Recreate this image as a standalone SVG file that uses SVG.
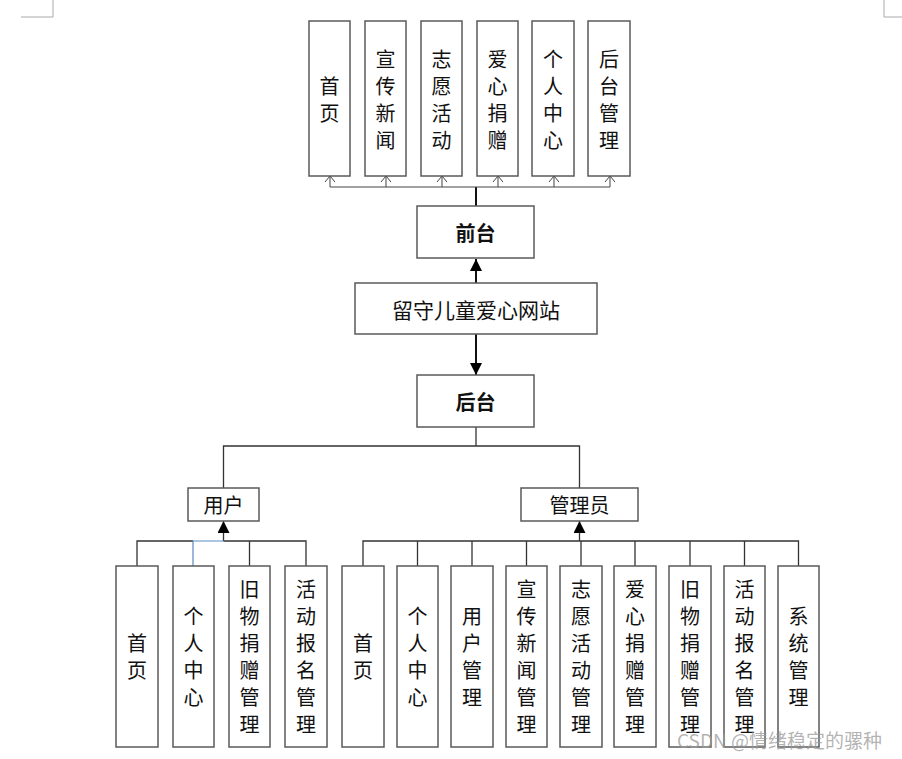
<svg xmlns="http://www.w3.org/2000/svg" width="902" height="759" viewBox="0 0 902 759">
<defs>
<style>
.box{fill:#fff;stroke:#5a5a5a;stroke-width:1.5}
.t{font-family:"Noto Sans CJK SC","Noto Sans",sans-serif;font-size:20px;fill:#111;text-anchor:middle;dominant-baseline:central}
.b{font-weight:bold}
.ln{fill:none;stroke:#333;stroke-width:1.3}
.thin{fill:none;stroke:#444;stroke-width:1}
.thick{fill:none;stroke:#111;stroke-width:2}
.mark{fill:none;stroke:#aaa;stroke-width:1}
.wm{font-family:"Noto Sans CJK SC","Noto Sans",sans-serif;font-size:19px;fill:#9a9a9a;fill-opacity:0.75}
</style>
<marker id="fill" viewBox="0 0 12 12" refX="12" refY="6" markerWidth="12" markerHeight="12" markerUnits="userSpaceOnUse" orient="auto">
<path d="M0,0 L12,6 L0,12 Z" fill="#000"/>
</marker>
<marker id="open" viewBox="0 0 8 12" refX="6" refY="6" markerWidth="8" markerHeight="12" markerUnits="userSpaceOnUse" orient="auto">
<path d="M0,1 L6,6 L0,11" fill="none" stroke="#444" stroke-width="1"/>
</marker>
</defs>
<rect x="0" y="0" width="902" height="759" fill="#fff"/>
<g id="page-marks">
<path class="mark" d="M53,0 V17 H21"/>
<path class="mark" d="M884,0 V17 H902"/>
</g>
<g id="connectors">
<path class="thick" d="M476,206 V187"/>
<path class="thin" d="M330,187 H610"/>
<path class="thin" d="M330,187 V176" marker-end="url(#open)"/>
<path class="thin" d="M386,187 V176" marker-end="url(#open)"/>
<path class="thin" d="M442,187 V176" marker-end="url(#open)"/>
<path class="thin" d="M498,187 V176" marker-end="url(#open)"/>
<path class="thin" d="M554,187 V176" marker-end="url(#open)"/>
<path class="thin" d="M610,187 V176" marker-end="url(#open)"/>
<path class="thick" d="M476,283 V259" marker-end="url(#fill)"/>
<path class="thick" d="M476,334 V375" marker-end="url(#fill)"/>
<path class="ln" d="M476,427 V446"/>
<path class="ln" d="M223.5,488 V446 H579.5 V488"/>
<path class="ln" d="M223.5,541 V521" marker-end="url(#fill)"/>
<path class="ln" d="M137,566 V541 H193"/>
<path class="ln" d="M223.5,541 H306 V566"/>
<path class="ln" d="M249.5,541 V566"/>
<path fill="none" stroke="#5b8bc4" stroke-width="1.2" d="M193,566 V541 H223.5"/>
<path class="ln" d="M579.5,541 V521" marker-end="url(#fill)"/>
<path class="ln" d="M363,566 V541 H798.5 V566"/>
<path class="ln" d="M417.5,541 V566"/>
<path class="ln" d="M472,541 V566"/>
<path class="ln" d="M526.5,541 V566"/>
<path class="ln" d="M581,541 V566"/>
<path class="ln" d="M635,541 V566"/>
<path class="ln" d="M690,541 V566"/>
<path class="ln" d="M744.5,541 V566"/>
</g>
<g id="root">
<rect class="box" x="355" y="283" width="242" height="51"/>
<text class="t" x="476" y="308.5" style="font-size:21px">留守儿童爱心网站</text>
</g>
<g id="frontend">
<rect class="box" x="417" y="206" width="117" height="52"/>
<text class="t b" x="475.5" y="232">前台</text>
</g>
<g id="backend">
<rect class="box" x="417" y="375" width="117" height="52"/>
<text class="t b" x="475.5" y="401">后台</text>
</g>
<g id="f-home">
<rect class="box" x="309" y="21" width="41" height="155"/>
<text class="t"><tspan x="329.5" y="85">首</tspan><tspan x="329.5" y="112">页</tspan></text>
</g>
<g id="f-news">
<rect class="box" x="365" y="21" width="41" height="155"/>
<text class="t"><tspan x="385.5" y="58">宣</tspan><tspan x="385.5" y="85">传</tspan><tspan x="385.5" y="112">新</tspan><tspan x="385.5" y="139">闻</tspan></text>
</g>
<g id="f-activity">
<rect class="box" x="421" y="21" width="41" height="155"/>
<text class="t"><tspan x="441.5" y="58">志</tspan><tspan x="441.5" y="85">愿</tspan><tspan x="441.5" y="112">活</tspan><tspan x="441.5" y="139">动</tspan></text>
</g>
<g id="f-donate">
<rect class="box" x="477" y="21" width="41" height="155"/>
<text class="t"><tspan x="497.5" y="58">爱</tspan><tspan x="497.5" y="85">心</tspan><tspan x="497.5" y="112">捐</tspan><tspan x="497.5" y="139">赠</tspan></text>
</g>
<g id="f-personal">
<rect class="box" x="532" y="21" width="42" height="155"/>
<text class="t"><tspan x="553" y="58">个</tspan><tspan x="553" y="85">人</tspan><tspan x="553" y="112">中</tspan><tspan x="553" y="139">心</tspan></text>
</g>
<g id="f-admin">
<rect class="box" x="588" y="21" width="42" height="155"/>
<text class="t"><tspan x="609" y="58">后</tspan><tspan x="609" y="85">台</tspan><tspan x="609" y="112">管</tspan><tspan x="609" y="139">理</tspan></text>
</g>
<g id="user">
<rect class="box" x="188" y="488" width="71" height="33"/>
<text class="t" x="223.5" y="504.5">用户</text>
</g>
<g id="admin">
<rect class="box" x="521" y="488" width="117" height="33"/>
<text class="t" x="579.5" y="504.5">管理员</text>
</g>
<g id="u-home">
<rect class="box" x="116" y="566" width="42" height="181"/>
<text class="t"><tspan x="137" y="642">首</tspan><tspan x="137" y="669">页</tspan></text>
</g>
<g id="u-personal">
<rect class="box" x="173" y="566" width="41" height="181"/>
<text class="t"><tspan x="193.5" y="615">个</tspan><tspan x="193.5" y="642">人</tspan><tspan x="193.5" y="669">中</tspan><tspan x="193.5" y="696">心</tspan></text>
</g>
<g id="u-olddonate">
<rect class="box" x="229" y="566" width="41" height="181"/>
<text class="t"><tspan x="249.5" y="588">旧</tspan><tspan x="249.5" y="615">物</tspan><tspan x="249.5" y="642">捐</tspan><tspan x="249.5" y="669">赠</tspan><tspan x="249.5" y="696">管</tspan><tspan x="249.5" y="723">理</tspan></text>
</g>
<g id="u-signup">
<rect class="box" x="285" y="566" width="42" height="181"/>
<text class="t"><tspan x="306" y="588">活</tspan><tspan x="306" y="615">动</tspan><tspan x="306" y="642">报</tspan><tspan x="306" y="669">名</tspan><tspan x="306" y="696">管</tspan><tspan x="306" y="723">理</tspan></text>
</g>
<g id="a-home">
<rect class="box" x="342" y="566" width="42" height="181"/>
<text class="t"><tspan x="363" y="642">首</tspan><tspan x="363" y="669">页</tspan></text>
</g>
<g id="a-personal">
<rect class="box" x="397" y="566" width="41" height="181"/>
<text class="t"><tspan x="417.5" y="615">个</tspan><tspan x="417.5" y="642">人</tspan><tspan x="417.5" y="669">中</tspan><tspan x="417.5" y="696">心</tspan></text>
</g>
<g id="a-users">
<rect class="box" x="451" y="566" width="42" height="181"/>
<text class="t"><tspan x="472" y="615">用</tspan><tspan x="472" y="642">户</tspan><tspan x="472" y="669">管</tspan><tspan x="472" y="696">理</tspan></text>
</g>
<g id="a-news">
<rect class="box" x="506" y="566" width="41" height="181"/>
<text class="t"><tspan x="526.5" y="588">宣</tspan><tspan x="526.5" y="615">传</tspan><tspan x="526.5" y="642">新</tspan><tspan x="526.5" y="669">闻</tspan><tspan x="526.5" y="696">管</tspan><tspan x="526.5" y="723">理</tspan></text>
</g>
<g id="a-activity">
<rect class="box" x="560" y="566" width="42" height="181"/>
<text class="t"><tspan x="581" y="588">志</tspan><tspan x="581" y="615">愿</tspan><tspan x="581" y="642">活</tspan><tspan x="581" y="669">动</tspan><tspan x="581" y="696">管</tspan><tspan x="581" y="723">理</tspan></text>
</g>
<g id="a-donate">
<rect class="box" x="614" y="566" width="42" height="181"/>
<text class="t"><tspan x="635" y="588">爱</tspan><tspan x="635" y="615">心</tspan><tspan x="635" y="642">捐</tspan><tspan x="635" y="669">赠</tspan><tspan x="635" y="696">管</tspan><tspan x="635" y="723">理</tspan></text>
</g>
<g id="a-olddonate">
<rect class="box" x="669" y="566" width="42" height="181"/>
<text class="t"><tspan x="690" y="588">旧</tspan><tspan x="690" y="615">物</tspan><tspan x="690" y="642">捐</tspan><tspan x="690" y="669">赠</tspan><tspan x="690" y="696">管</tspan><tspan x="690" y="723">理</tspan></text>
</g>
<g id="a-signup">
<rect class="box" x="724" y="566" width="41" height="181"/>
<text class="t"><tspan x="744.5" y="588">活</tspan><tspan x="744.5" y="615">动</tspan><tspan x="744.5" y="642">报</tspan><tspan x="744.5" y="669">名</tspan><tspan x="744.5" y="696">管</tspan><tspan x="744.5" y="723">理</tspan></text>
</g>
<g id="a-system">
<rect class="box" x="778" y="566" width="41" height="181"/>
<text class="t"><tspan x="798.5" y="615">系</tspan><tspan x="798.5" y="642">统</tspan><tspan x="798.5" y="669">管</tspan><tspan x="798.5" y="696">理</tspan></text>
</g>
<text class="wm" x="677" y="748">CSDN @情绪稳定的骡种</text>
</svg>
